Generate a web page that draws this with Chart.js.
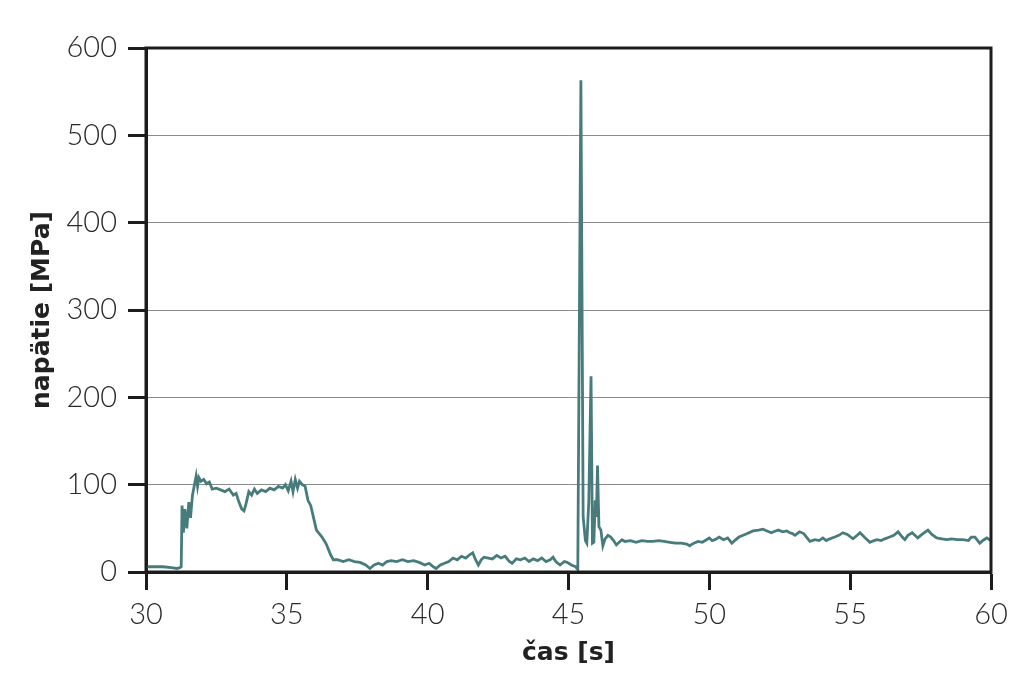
<!DOCTYPE html>
<html>
<head>
<meta charset="utf-8">
<script src="https://cdn.jsdelivr.net/npm/chart.js@4/dist/chart.umd.min.js"></script>
<style>
  html, body { margin: 0; padding: 0; background: #fff; }
  #wrap { width: 1024px; height: 698px; }
</style>
</head>
<body>
<div id="wrap"><canvas id="graf"></canvas></div>
<script>
// čas [s]
const casS = [
  30.0, 30.3, 30.6, 30.9, 31.1, 31.2, 31.25,
  31.28, 31.33, 31.38, 31.45, 31.52, 31.58, 31.65, 31.72, 31.78, 31.83, 31.88, 31.95,
  32.05, 32.15, 32.25, 32.35, 32.5, 32.65, 32.8, 32.95, 33.1, 33.2, 33.3, 33.4, 33.48,
  33.55, 33.65, 33.75, 33.85, 33.95, 34.1, 34.25, 34.4, 34.55, 34.7, 34.85, 34.95,
  35.05, 35.15, 35.22, 35.3, 35.38, 35.45, 35.55, 35.65, 35.75, 35.85, 35.95, 36.05,
  36.15, 36.25, 36.4, 36.55, 36.65, 36.8, 37.0, 37.2, 37.4, 37.6, 37.8, 37.95,
  38.1, 38.25, 38.4, 38.55, 38.7, 38.9, 39.1, 39.3, 39.5, 39.7, 39.9, 40.05, 40.2,
  40.3, 40.45, 40.6, 40.75, 40.9, 41.05, 41.2, 41.35, 41.5, 41.6, 41.7, 41.8, 41.9,
  42.0, 42.15, 42.3, 42.45, 42.6, 42.75, 42.9, 43.0, 43.15, 43.3, 43.45, 43.6, 43.75,
  43.9, 44.05, 44.2, 44.35, 44.45, 44.55, 44.7, 44.85, 44.95, 45.1, 45.25, 45.33,
  45.44, 45.52, 45.6, 45.65, 45.72, 45.8, 45.85, 45.9, 45.95, 45.99, 46.03, 46.08,
  46.15, 46.22, 46.3, 46.4, 46.5, 46.6, 46.7, 46.8, 46.9, 47.0, 47.2, 47.4, 47.6,
  47.8, 48.0, 48.2, 48.4, 48.6, 48.8, 49.0, 49.2, 49.3, 49.45, 49.6, 49.75, 49.9,
  50.0, 50.1, 50.2, 50.35, 50.5, 50.65, 50.8, 50.9, 51.05, 51.2, 51.35, 51.55, 51.75,
  51.9, 52.05, 52.2, 52.35, 52.45, 52.6, 52.75, 52.86, 52.95, 53.04, 53.2, 53.35,
  53.57, 53.75, 53.9, 54.03, 54.15, 54.28, 54.45, 54.6, 54.74, 54.9, 55.1, 55.25,
  55.35, 55.5, 55.7, 55.85, 55.95, 56.1, 56.23, 56.4, 56.55, 56.7, 56.85, 56.94,
  57.05, 57.2, 57.3, 57.4, 57.55, 57.76, 57.9, 58.07, 58.25, 58.43, 58.6, 58.8,
  59.0, 59.2, 59.3, 59.43, 59.6, 59.75, 59.85, 60.0
];

// napätie [MPa]
const napatie = [
  6, 6, 6, 5, 4, 5, 6,
  76, 45, 72, 50, 80, 62, 88, 100, 110, 98, 108, 104,
  106, 101, 103, 95, 96, 94, 92, 95, 88, 90, 80, 72, 70,
  78, 92, 88, 95, 90, 94, 92, 96, 94, 98, 96, 100,
  93, 104, 92, 106, 96, 104, 100, 98, 82, 76, 62, 48,
  44, 40, 32, 20, 14, 14, 12, 14, 12, 11, 8, 4,
  8, 10, 8, 12, 13, 12, 14, 12, 13, 11, 8, 10, 6,
  4, 8, 10, 12, 16, 14, 18, 16, 20, 22, 14, 8, 14,
  17, 16, 15, 19, 16, 18, 12, 10, 15, 14, 16, 12, 15,
  13, 16, 12, 14, 17, 12, 8, 12, 11, 8, 6, 3,
  563, 63, 36, 33, 80, 224, 33, 34, 82, 63, 122, 52,
  48, 30, 38, 42, 40, 36, 31, 34, 37, 35, 36, 34, 36,
  35, 35, 36, 35, 34, 33, 33, 32, 30, 33, 35, 34, 37,
  39, 36, 37, 40, 37, 39, 33, 36, 40, 42, 44, 47, 48,
  49, 47, 45, 47, 48, 46, 47, 45, 44, 42, 46, 44,
  35, 37, 36, 39, 36, 38, 40, 42, 45, 43, 38, 42,
  45, 40, 34, 36, 37, 36, 38, 40, 42, 46, 40, 37,
  42, 45, 42, 39, 43, 48, 43, 39, 38, 37, 38, 37,
  37, 36, 40, 40, 33, 37, 39, 36
];

const xTicks = [30, 35, 40, 45, 50, 55, 60];
const yTicks = [0, 100, 200, 300, 400, 500, 600];

const farbaCiary = 'rgb(72, 124, 124)';
const farbaOsi = '#1c1c1c';
const pismoOsi = "Lato, 'Liberation Sans', sans-serif";
const pismoNazvu = "'DejaVu Sans', 'Liberation Sans', sans-serif";

// ramik okolo grafu (hore a vpravo)
const ramik = {
  id: 'ramik',
  afterDraw(chart) {
    const { ctx, chartArea: a } = chart;
    ctx.save();
    ctx.strokeStyle = farbaOsi;
    ctx.lineWidth = 3;
    ctx.strokeRect(a.left, a.top, a.right - a.left, a.bottom - a.top);
    ctx.restore();
  }
};

new Chart(document.getElementById('graf').getContext('2d'), {
  type: 'scatter',
  data: {
    datasets: [{
      data: casS.map((t, i) => ({ x: t, y: napatie[i] })),
      showLine: true,
      borderColor: farbaCiary,
      backgroundColor: farbaCiary,
      borderWidth: 2.8,
      pointRadius: 0,
      tension: 0
    }]
  },
  options: {
    responsive: true,
    maintainAspectRatio: false,
    animation: false,
    layout: { padding: { top: 48, right: 33, left: 0, bottom: 0 } },
    plugins: { legend: { display: false }, tooltip: { enabled: false } },
    scales: {
      x: {
        type: 'linear',
        min: 30,
        max: 60,
        afterBuildTicks: s => { s.ticks = xTicks.map(v => ({ value: v })); },
        afterFit: s => { s.height = 126; },
        grid: {
          drawOnChartArea: false,
          drawTicks: true,
          tickLength: 18,
          tickColor: farbaOsi,
          tickWidth: 3
        },
        border: { display: true, color: farbaOsi, width: 3 },
        ticks: {
          padding: 7,
          color: '#2a2a2a',
          font: { family: pismoOsi, size: 29, weight: 300 }
        },
        title: {
          display: true,
          text: 'čas [s]',
          color: '#222',
          padding: { top: 0, bottom: 30 },
          font: { family: pismoNazvu, size: 25, weight: 'bold' }
        }
      },
      y: {
        type: 'linear',
        min: 0,
        max: 600,
        afterBuildTicks: s => { s.ticks = yTicks.map(v => ({ value: v })); },
        afterFit: s => { s.width = 146; },
        grid: {
          color: c => (c.tick && c.tick.value > 0 && c.tick.value < 600) ? '#8a8a8a' : 'rgba(0,0,0,0)',
          lineWidth: 1,
          drawTicks: true,
          tickLength: 18,
          tickColor: farbaOsi,
          tickWidth: 3
        },
        border: { display: true, color: farbaOsi, width: 3 },
        ticks: {
          padding: 11,
          color: '#2a2a2a',
          font: { family: pismoOsi, size: 29, weight: 300 }
        },
        title: {
          display: true,
          text: 'napätie [MPa]',
          color: '#222',
          padding: { top: 27, bottom: 0 },
          font: { family: pismoNazvu, size: 25, weight: 'bold' }
        }
      }
    }
  },
  plugins: [ramik]
});
</script>
</body>
</html>
